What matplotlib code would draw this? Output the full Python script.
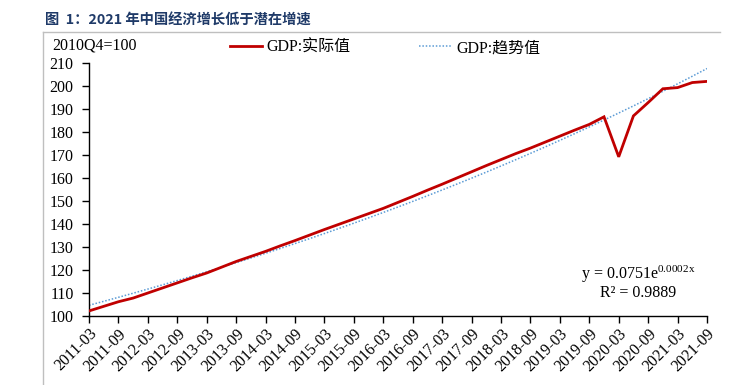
import numpy as np
import matplotlib
matplotlib.use("Agg")
import matplotlib.pyplot as plt
from matplotlib.lines import Line2D

plt.rcParams['font.family'] = ['Liberation Serif', 'Noto Sans CJK SC']
plt.rcParams['mathtext.fontset'] = 'custom'
plt.rcParams['mathtext.rm'] = 'Liberation Serif'
plt.rcParams['mathtext.it'] = 'Liberation Serif'

# quarterly GDP index, 2011Q1 .. 2021Q3 (2010Q4 = 100)
quarters = [f"{y}-{m:02d}" for y in range(2011, 2022) for m in (3, 6, 9, 12)][:43]
gdp_actual = [102.2, 104.2, 106.2, 107.8, 110.0, 112.2, 114.4, 116.6, 118.7, 121.2,
              123.7, 125.9, 128.1, 130.5, 132.8, 135.2, 137.6, 139.9, 142.2, 144.5,
              146.8, 149.4, 152.0, 154.7, 157.3, 160.0, 162.7, 165.4, 168.0, 170.6,
              173.0, 175.6, 178.2, 180.8, 183.3, 186.6, 169.2, 187.0, 192.8, 198.8,
              199.3, 201.5, 202.0]
tick_labels = quarters[::2]
y_ticks = list(range(100, 211, 10))

x = np.arange(len(gdp_actual))
# exponential trend line, fitted like Excel does
b, a = np.polyfit(x, np.log(gdp_actual), 1)
gdp_trend = np.exp(a + b * x)

fig = plt.figure(figsize=(7.42, 3.85), dpi=100)
ax = fig.add_axes([89 / 742, 1 - 316 / 385, (707 - 89) / 742, (316 - 63) / 385])

ax.plot(x, gdp_actual, color='#C00000', lw=2.0, solid_joinstyle='miter', zorder=3)
ax.plot(x, gdp_trend, color='#5B9BD5', lw=1.1, linestyle=(0, (1, 1.2)), zorder=2)

ax.set_xlim(0, len(x) - 1)
ax.set_ylim(100, 210)
ax.set_yticks(y_ticks)
ax.set_yticklabels([str(v) for v in y_ticks], fontsize=11.5)
ax.set_xticks(x[::2])
ax.set_xticklabels(tick_labels, rotation=45, ha='right', rotation_mode='anchor', fontsize=11.5)
ax.tick_params(axis='both', direction='out', length=5, width=1, color='black', pad=2)
ax.tick_params(axis='y', pad=6)
for s in ('top', 'right'):
    ax.spines[s].set_visible(False)
for s in ('left', 'bottom'):
    ax.spines[s].set_linewidth(1)

# equation of the trend line
ax.text(0.888, 0.165, r'y = 0.0751e$^{0.0002\mathrm{x}}$', transform=ax.transAxes,
        ha='center', va='center', fontsize=11.5)
ax.text(0.888, 0.092, 'R² = 0.9889', transform=ax.transAxes,
        ha='center', va='center', fontsize=11.5)

# legend
handles = [Line2D([], [], color='#C00000', lw=2.0),
           Line2D([], [], color='#5B9BD5', lw=1.1, linestyle=(0, (1, 1.2)))]
fig.legend(handles, ['GDP:实际值', 'GDP:趋势值'], ncol=2, frameon=False,
           loc='center', bbox_to_anchor=(385 / 742, 1 - 48 / 385), fontsize=11.5,
           handlelength=2.0, handletextpad=0.3, columnspacing=4.3)

fig.text(52 / 742, 1 - 45 / 385, '2010Q4=100', ha='left', va='center', fontsize=11.5)

# title and frame lines
fig.text(45 / 742, 1 - 21 / 385, '图  1：2021 年中国经济增长低于潜在增速', ha='left', va='center',
         fontsize=10.3, fontweight='bold', color='#1F3A68', family=['Noto Sans CJK SC'])
fig.add_artist(Line2D([43 / 742, 720 / 742], [1 - 32 / 385, 1 - 32 / 385], color='#BFBFBF', lw=1))
fig.add_artist(Line2D([43 / 742, 43 / 742], [1 - 32 / 385, 0], color='#BFBFBF', lw=1))

fig.savefig('out.png', dpi=100)
